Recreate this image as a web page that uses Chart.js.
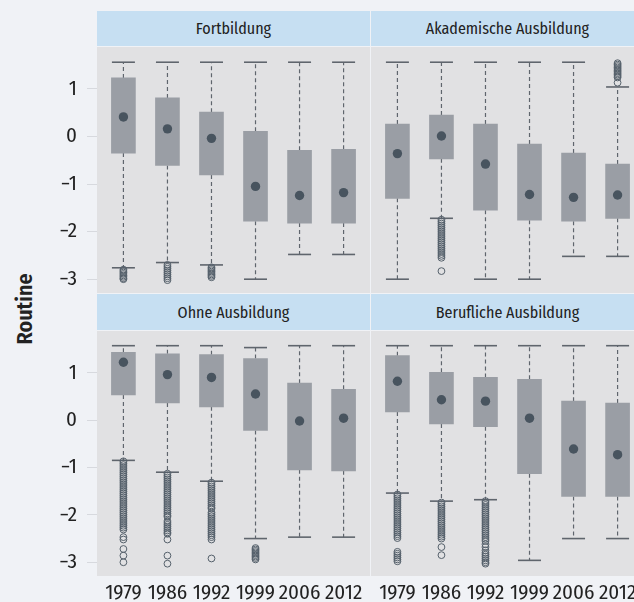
<!DOCTYPE html>
<html>
<head>
<meta charset="utf-8">
<script src="https://cdn.jsdelivr.net/npm/chart.js@4.4.1/dist/chart.umd.min.js"></script>
<style>
  html, body { margin: 0; padding: 0; }
  body { width: 634px; height: 602px; overflow: hidden; position: relative; background: #f0f2f6;
         font-family: 'Fira Sans Condensed', 'Roboto Condensed', sans-serif; }
  canvas { position: absolute; display: block; }
  .strip { position: absolute; background: #c6dff2; color: #222; font-size: 16px;
           display: flex; align-items: center; justify-content: center; white-space: nowrap; }
  .ylab { position: absolute; left: 24px; top: 309px; transform: translate(-50%, -50%) rotate(-90deg);
          font-size: 22px; font-weight: 600; color: #222; white-space: nowrap; }
</style>
</head>
<body>
<div class="strip" style="left:97px;top:11px;width:273px;height:35px;">Fortbildung</div>
<div class="strip" style="left:371px;top:11px;width:273px;height:35px;">Akademische Ausbildung</div>
<div class="strip" style="left:97px;top:294px;width:273px;height:36px;">Ohne Ausbildung</div>
<div class="strip" style="left:371px;top:294px;width:273px;height:36px;">Berufliche Ausbildung</div>
<div class="ylab">Routine</div>
<canvas id="cTL" width="370" height="246" style="left:0;top:47px;"></canvas>
<canvas id="cTR" width="273" height="246" style="left:371px;top:47px;"></canvas>
<canvas id="cBL" width="370" height="271" style="left:0;top:331px;"></canvas>
<canvas id="cBR" width="273" height="271" style="left:371px;top:331px;"></canvas>
<script>
const years = ['1979', '1986', '1992', '1999', '2006', '2012'];
const yTicks = [-3, -2, -1, 0, 1];

// Fortbildung
const fortUpper = [1.56, 1.56, 1.56, 1.56, 1.56, 1.56];
const fortQ3 = [1.23, 0.81, 0.51, 0.11, -0.29, -0.27];
const fortQ1 = [-0.35, -0.61, -0.81, -1.78, -1.82, -1.82];
const fortLower = [-2.76, -2.65, -2.70, -3.00, -2.48, -2.48];
const fortMean = [0.41, 0.16, -0.04, -1.05, -1.24, -1.18];
const fortOutliers = [
  [-2.80, -2.83, -2.86, -2.89, -2.92, -2.95, -2.98, -3.00],
  [-2.70, -2.74, -2.78, -2.82, -2.86, -2.90, -2.94, -2.98, -3.02],
  [-2.75, -2.78, -2.81, -2.84, -2.87, -2.90, -2.93, -2.96],
  [], [], []
];

// Akademische Ausbildung
const akadUpper = [1.56, 1.56, 1.56, 1.56, 1.56, 1.04];
const akadQ3 = [0.26, 0.45, 0.26, -0.16, -0.35, -0.58];
const akadQ1 = [-1.30, -0.47, -1.55, -1.76, -1.78, -1.72];
const akadLower = [-3.00, -1.72, -3.00, -3.00, -2.52, -2.52];
const akadMean = [-0.36, 0.01, -0.58, -1.22, -1.28, -1.23];
const akadOutliers = [
  [],
  [-1.75, -1.79, -1.83, -1.87, -1.91, -1.95, -1.99, -2.03, -2.07, -2.11, -2.15, -2.19, -2.23,
   -2.27, -2.31, -2.35, -2.39, -2.43, -2.47, -2.51, -2.55, -2.83],
  [], [], [],
  [1.13, 1.24, 1.27, 1.30, 1.33, 1.36, 1.39, 1.42, 1.45, 1.48, 1.51, 1.54]
];

// Ohne Ausbildung
const ohneUpper = [1.57, 1.57, 1.57, 1.53, 1.57, 1.57];
const ohneQ3 = [1.43, 1.40, 1.38, 1.30, 0.78, 0.65];
const ohneQ1 = [0.53, 0.36, 0.28, -0.22, -1.05, -1.07];
const ohneLower = [-0.85, -1.10, -1.29, -2.50, -2.47, -2.47];
const ohneMean = [1.22, 0.96, 0.90, 0.55, -0.02, 0.04];
const ohneOutliers = [
  [-0.87, -0.91, -0.95, -0.99, -1.03, -1.07, -1.11, -1.15, -1.19, -1.23, -1.27, -1.31, -1.35,
   -1.39, -1.43, -1.47, -1.51, -1.55, -1.59, -1.63, -1.67, -1.71, -1.75, -1.79, -1.83, -1.87,
   -1.91, -1.95, -1.99, -2.03, -2.07, -2.11, -2.15, -2.19, -2.23, -2.27, -2.31,
   -2.47, -2.52, -2.72, -2.86, -3.00],
  [-1.13, -1.17, -1.21, -1.25, -1.29, -1.33, -1.37, -1.41, -1.45, -1.49, -1.53, -1.57, -1.61,
   -1.65, -1.69, -1.73, -1.77, -1.81, -1.85, -1.89, -1.93, -1.97, -2.01, -2.04,
   -2.13, -2.17, -2.21, -2.25, -2.29, -2.33, -2.37, -2.40, -2.52, -2.86, -3.03],
  [-1.32, -1.36, -1.40, -1.44, -1.48, -1.52, -1.56, -1.60, -1.64, -1.68, -1.72, -1.76, -1.80,
   -1.84, -1.87, -1.95, -1.99, -2.03, -2.07, -2.11, -2.15, -2.19, -2.23, -2.27, -2.31, -2.35,
   -2.39, -2.43, -2.47, -2.52, -2.92],
  [-2.70, -2.73, -2.76, -2.79, -2.82, -2.85, -2.88, -2.91, -2.94],
  [], []
];

// Berufliche Ausbildung
const berufUpper = [1.57, 1.57, 1.57, 1.57, 1.57, 1.57];
const berufQ3 = [1.36, 1.01, 0.90, 0.86, 0.40, 0.36];
const berufQ1 = [0.17, -0.08, -0.14, -1.13, -1.61, -1.61];
const berufLower = [-1.54, -1.71, -1.68, -2.96, -2.50, -2.50];
const berufMean = [0.82, 0.43, 0.40, 0.04, -0.61, -0.73];
const berufOutliers = [
  [-1.57, -1.61, -1.65, -1.69, -1.73, -1.77, -1.81, -1.85, -1.89, -1.93, -1.97, -2.01, -2.05,
   -2.09, -2.13, -2.17, -2.21, -2.25, -2.29, -2.33, -2.37, -2.41, -2.45, -2.49,
   -2.78, -2.82, -2.86, -2.90, -2.94, -2.98],
  [-1.74, -1.78, -1.82, -1.86, -1.90, -1.94, -1.98, -2.02, -2.06, -2.10, -2.14, -2.18, -2.22,
   -2.26, -2.30, -2.34, -2.38, -2.42, -2.46, -2.50, -2.68, -2.85],
  [-1.71, -1.75, -1.79, -1.83, -1.87, -1.91, -1.95, -1.99, -2.03, -2.07, -2.11, -2.15, -2.19,
   -2.23, -2.27, -2.31, -2.35, -2.39, -2.43, -2.47, -2.51, -2.55, -2.62, -2.68, -2.75, -2.80,
   -2.84, -2.88, -2.92, -2.96, -3.00, -3.03],
  [], [], []
];

const FONT = "'Fira Sans Condensed', 'Roboto Condensed', sans-serif";
const Y_MIN = -3.29, Y_MAX = 1.88;

const panelBg = {
  id: 'panelBg',
  beforeDraw(chart) {
    const a = chart.chartArea, ctx = chart.ctx;
    ctx.save();
    ctx.fillStyle = '#e1e1e3';
    ctx.fillRect(a.left, a.top, a.right - a.left, a.bottom - a.top);
    ctx.restore();
  }
};

function makePanel(id, q1, q3, lo, hi, mean, outl, showY, showX) {
  const boxes = years.map((_, i) => ({ x: i + 1, y: [q1[i], q3[i]] }));
  const whiskers = years.flatMap((_, i) => [
    { x: i + 1, y: q3[i] }, { x: i + 1, y: hi[i] }, { x: i + 1, y: null },
    { x: i + 1, y: q1[i] }, { x: i + 1, y: lo[i] }, { x: i + 1, y: null }
  ]);
  const caps = years.flatMap((_, i) => [{ x: i + 1, y: hi[i] }, { x: i + 1, y: lo[i] }]);
  const outs = years.flatMap((_, i) => outl[i].map(v => ({ x: i + 1, y: v })));
  const means = years.map((_, i) => ({ x: i + 1, y: mean[i] }));

  return new Chart(document.getElementById(id), {
    type: 'bar',
    data: {
      datasets: [
        { type: 'scatter', data: means, pointRadius: 4.7, pointBackgroundColor: '#48545f',
          pointBorderWidth: 0, order: 0 },
        { type: 'scatter', data: outs, pointRadius: 3.4, pointBackgroundColor: 'rgba(0,0,0,0)',
          pointBorderColor: '#56616c', pointBorderWidth: 1, order: 1 },
        { type: 'scatter', data: caps, pointStyle: 'line', pointRadius: 11.5,
          pointBorderColor: '#5f656d', pointBorderWidth: 1.6, order: 2 },
        { type: 'bar', data: boxes, backgroundColor: '#9a9ea5', borderWidth: 0,
          barThickness: 24, order: 3 },
        { type: 'line', data: whiskers, borderColor: '#5f656d', borderWidth: 1.2,
          borderDash: [4, 3], pointRadius: 0, spanGaps: false, fill: false, order: 4 }
      ]
    },
    options: {
      responsive: false,
      animation: false,
      events: [],
      devicePixelRatio: 1,
      layout: { padding: 0, autoPadding: false },
      plugins: { legend: { display: false }, tooltip: { enabled: false }, title: { display: false } },
      scales: {
        x: {
          type: 'linear', min: 0.4, max: 6.6, offset: false, display: showX,
          grid: { display: false, drawTicks: false, offset: false },
          border: { display: false },
          afterBuildTicks: s => { s.ticks = years.map((_, i) => ({ value: i + 1 })); },
          afterFit: s => { s.paddingLeft = 0; s.paddingRight = 0; if (showX) s.height = 26; },
          ticks: { padding: 5, maxRotation: 0, autoSkip: false, color: '#222',
                   font: { family: FONT, size: 21 },
                   callback: v => years[Math.round(v) - 1] }
        },
        y: {
          type: 'linear', min: Y_MIN, max: Y_MAX, display: showY,
          grid: { display: true, drawOnChartArea: false, drawTicks: true, tickLength: 10,
                  color: '#d7d9de', lineWidth: 1 },
          border: { display: false },
          afterBuildTicks: s => { s.ticks = yTicks.map(v => ({ value: v })); },
          afterFit: s => { s.paddingTop = 0; s.paddingBottom = 0; if (showY) s.width = 97; },
          ticks: { padding: 10, color: '#222', font: { family: FONT, size: 21 },
                   callback: v => (v < 0 ? '\u2212' + Math.abs(v) : String(v)) }
        }
      }
    },
    plugins: [panelBg]
  });
}

makePanel('cTL', fortQ1, fortQ3, fortLower, fortUpper, fortMean, fortOutliers, true, false);
makePanel('cTR', akadQ1, akadQ3, akadLower, akadUpper, akadMean, akadOutliers, false, false);
makePanel('cBL', ohneQ1, ohneQ3, ohneLower, ohneUpper, ohneMean, ohneOutliers, true, true);
makePanel('cBR', berufQ1, berufQ3, berufLower, berufUpper, berufMean, berufOutliers, false, true);
</script>
</body>
</html>
